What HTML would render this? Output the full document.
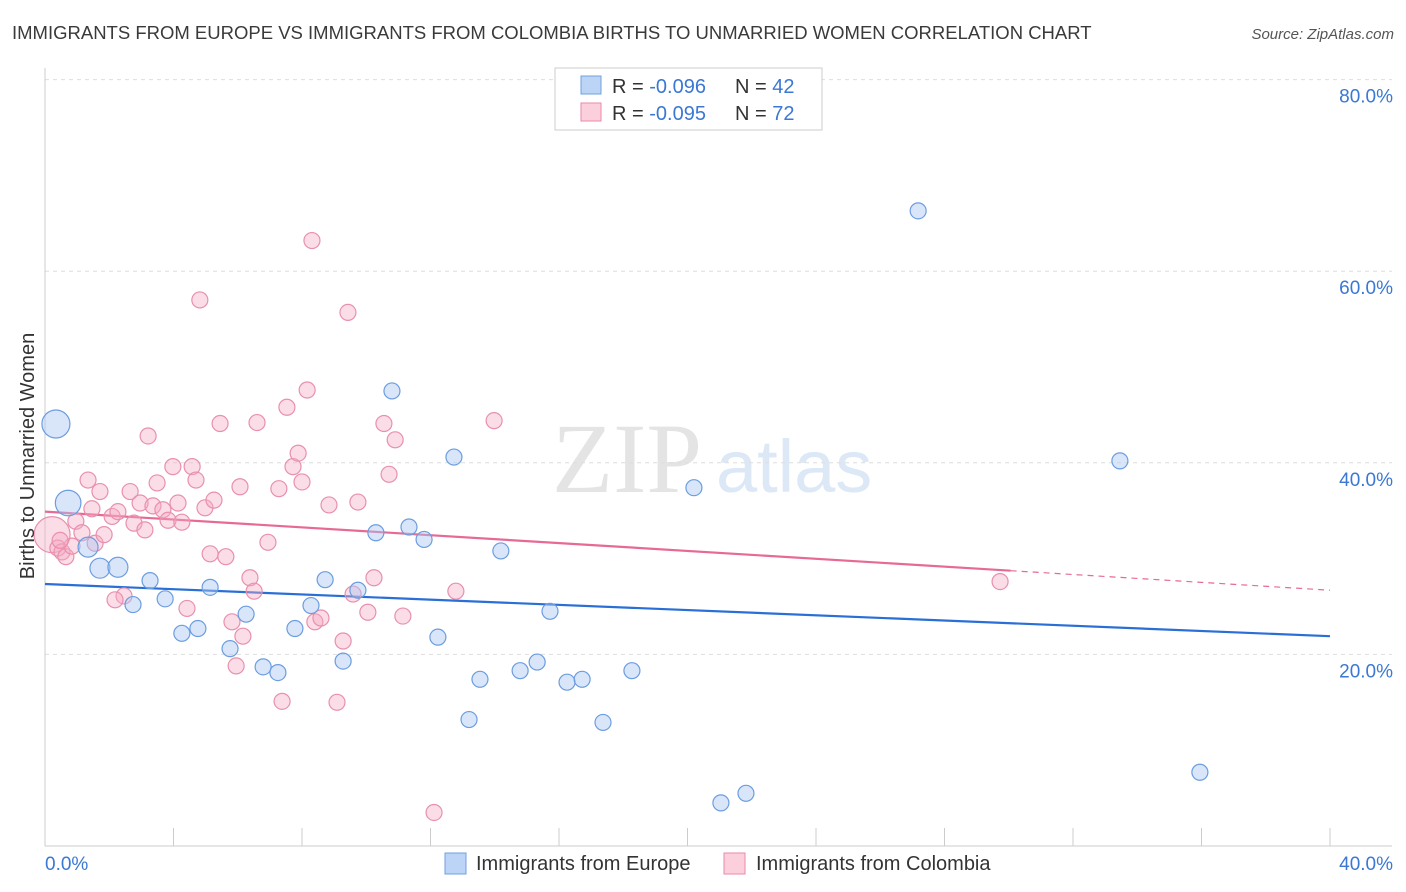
<!DOCTYPE html>
<html><head><meta charset="utf-8">
<style>
body{margin:0;background:#fff;font-family:"Liberation Sans",sans-serif;}
svg{display:block}
</style></head>
<body>
<svg id="chart" width="1406" height="892" xmlns="http://www.w3.org/2000/svg" font-family="Liberation Sans, sans-serif">
<text x="12" y="39" font-size="18.5" fill="#3a3a3a">IMMIGRANTS FROM EUROPE VS IMMIGRANTS FROM COLOMBIA BIRTHS TO UNMARRIED WOMEN CORRELATION CHART</text>
<text x="1394" y="39" font-size="15" fill="#555" font-style="italic" text-anchor="end">Source: ZipAtlas.com</text>
<g>
<text x="552" y="492" font-size="100" fill="#e4e4e4" font-family="Liberation Serif, serif">ZIP</text>
<text x="716" y="492" font-size="74" fill="#dce8f6">atlas</text>
</g>
<g id="grid"></g>
<g id="axes"></g>
<g id="lines"></g>
<g id="pts"></g>
<text transform="translate(34,456) rotate(-90)" font-size="20" fill="#333" text-anchor="middle">Births to Unmarried Women</text>
<g>
<rect x="555" y="68" width="267" height="62" fill="#fff" stroke="#ccc"/>
<rect x="581" y="76" width="20" height="18" fill="#bcd4f5" stroke="#6fa0e0"/>
<rect x="581" y="103" width="20" height="18" fill="#fbcfdc" stroke="#e88aaa"/>
<text x="612" y="93" font-size="20" fill="#333">R = <tspan fill="#3a78d4">-0.096</tspan></text>
<text x="735" y="93" font-size="20" fill="#333">N = <tspan fill="#3a78d4">42</tspan></text>
<text x="612" y="120" font-size="20" fill="#333">R = <tspan fill="#3a78d4">-0.095</tspan></text>
<text x="735" y="120" font-size="20" fill="#333">N = <tspan fill="#3a78d4">72</tspan></text>
</g>
<g>
<rect x="445" y="853" width="21" height="21" fill="#bcd4f5" stroke="#6fa0e0"/>
<text x="476" y="870" font-size="20" fill="#333">Immigrants from Europe</text>
<rect x="724" y="853" width="21" height="21" fill="#fbcfdc" stroke="#e88aaa"/>
<text x="756" y="870" font-size="20" fill="#333">Immigrants from Colombia</text>
</g>
</svg>
<script>
const europeX=[0.34,0.72,1.34,1.71,2.27,2.74,3.27,3.74,4.26,4.76,5.14,5.76,6.26,6.79,7.25,7.78,8.28,8.72,9.28,9.74,10.30,10.80,11.33,11.80,12.23,12.73,13.20,13.54,14.19,14.79,15.32,15.72,16.25,16.72,17.37,18.27,20.2,21.04,21.82,27.18,33.46,35.95];
const europeY=[44.05,35.8,31.2,29.0,29.1,25.2,27.7,25.8,22.2,22.7,27.0,20.6,24.2,18.7,18.1,22.7,25.1,27.8,19.3,26.7,32.7,47.5,33.3,32.0,21.8,40.6,13.2,17.4,30.8,18.3,19.2,24.5,17.1,17.4,12.9,18.3,37.4,4.5,5.5,66.3,40.2,7.7];
const europeSize=[1.75,1.6,1.25,1.25,1.25,1,1,1,1,1,1,1,1,1,1,1,1,1,1,1,1,1,1,1,1,1,1,1,1,1,1,1,1,1,1,1,1,1,1,1,1,1];
const colombiaX=[0.22,0.40,0.53,0.65,0.84,0.96,1.15,1.34,1.46,1.56,1.71,1.84,2.09,2.27,2.46,2.65,2.77,2.96,3.11,3.21,3.36,3.49,3.67,3.83,3.98,4.14,4.26,4.42,4.58,4.70,4.82,4.98,5.14,5.26,5.45,5.63,5.82,5.95,6.07,6.16,6.38,6.51,6.60,6.94,7.28,7.38,7.53,7.72,7.88,8.00,8.16,8.31,8.40,8.59,8.84,9.09,9.28,9.43,9.59,9.74,10.05,10.24,10.55,10.71,10.90,11.14,12.11,12.79,13.98,29.73,0.47,2.18];
const colombiaY=[32.5,31.1,30.7,30.2,31.3,33.9,32.7,38.2,35.2,31.6,37.0,32.5,34.4,34.9,26.1,37.0,33.7,35.8,33.0,42.8,35.5,37.9,35.1,34.0,39.6,35.8,33.8,24.8,39.6,38.2,57.0,35.3,30.5,36.1,44.1,30.2,23.4,18.8,37.5,21.9,28.0,26.6,44.2,31.7,37.3,15.1,45.8,39.6,41.0,38.0,47.6,63.2,23.4,23.8,35.6,15.0,21.4,55.7,26.3,35.9,24.4,28.0,44.1,38.8,42.4,24.0,3.5,26.6,44.4,27.6,31.9,25.7];
const trendEurope=[27.35,21.9];
const trendColombia=[34.9,26.7];
const colombiaSolidEnd=30.06;
const yTicks=[20,40,60,80];
const yTickLabels=["20.0%","40.0%","60.0%","80.0%"];
const xTicks=[0,4,8,12,16,20,24,28,32,36,40];

const NS="http://www.w3.org/2000/svg";
const X=v=>45+v/40*1285;
const Y=v=>846-v*9.58;
function mk(tag,attrs,parent){const e=document.createElementNS(NS,tag);for(const k in attrs)e.setAttribute(k,attrs[k]);parent.appendChild(e);return e;}
const grid=document.getElementById('grid'),axes=document.getElementById('axes'),lines=document.getElementById('lines'),pts=document.getElementById('pts');
yTicks.forEach((t,i)=>{
 const l=mk('line',{x1:45,x2:1392,y1:Y(t),y2:Y(t),stroke:'#dedede','stroke-dasharray':'4,4'},grid);
 
 
 const tx=mk('text',{x:1393,y:Y(t)+23,'font-size':19,fill:'#3a78d4','text-anchor':'end'},axes);
 tx.textContent=yTickLabels[i];
 
 
});
mk('line',{x1:45,x2:45,y1:68,y2:846,stroke:'#ccc'},axes);
mk('line',{x1:45,x2:1392,y1:846,y2:846,stroke:'#ccc'},axes);
xTicks.forEach(t=>{const l=mk('line',{x1:X(t),x2:X(t),y1:828,y2:846,stroke:'#ccc'},axes);
 
 });
const x0=mk('text',{x:45,y:870,'font-size':19,fill:'#3a78d4'},axes);x0.textContent="0.0%";


const x1=mk('text',{x:1393,y:870,'font-size':19,fill:'#3a78d4','text-anchor':'end'},axes);x1.textContent="40.0%";



function pt(x,y,r,fill,stroke,name){const c=mk('circle',{cx:X(x),cy:Y(y),r:r,fill:fill,stroke:stroke,'stroke-width':1.2},pts);
 
 }
colombiaX.forEach((x,i)=>pt(x,colombiaY[i],i==0?18:8,'rgba(246,170,196,0.4)','#e890ae','colombia-point'));
europeX.forEach((x,i)=>pt(x,europeY[i],8*europeSize[i],'rgba(170,200,242,0.45)','#6b9de0','europe-point'));

const tv=(tr,x)=>tr[0]+(tr[1]-tr[0])*x/40;
const bl=mk('line',{x1:X(0),y1:Y(tv(trendEurope,0)),x2:X(40),y2:Y(tv(trendEurope,40)),stroke:'#2a6fd6','stroke-width':2.2},lines);


const pl=mk('line',{x1:X(0),y1:Y(tv(trendColombia,0)),x2:X(colombiaSolidEnd),y2:Y(tv(trendColombia,colombiaSolidEnd)),stroke:'#e66a95','stroke-width':2.2},lines);


const pd=mk('line',{x1:X(colombiaSolidEnd),y1:Y(tv(trendColombia,colombiaSolidEnd)),x2:X(40),y2:Y(tv(trendColombia,40)),stroke:'#e66a95','stroke-width':1.2,'stroke-dasharray':'6,5'},lines);


</script>
</body></html>
